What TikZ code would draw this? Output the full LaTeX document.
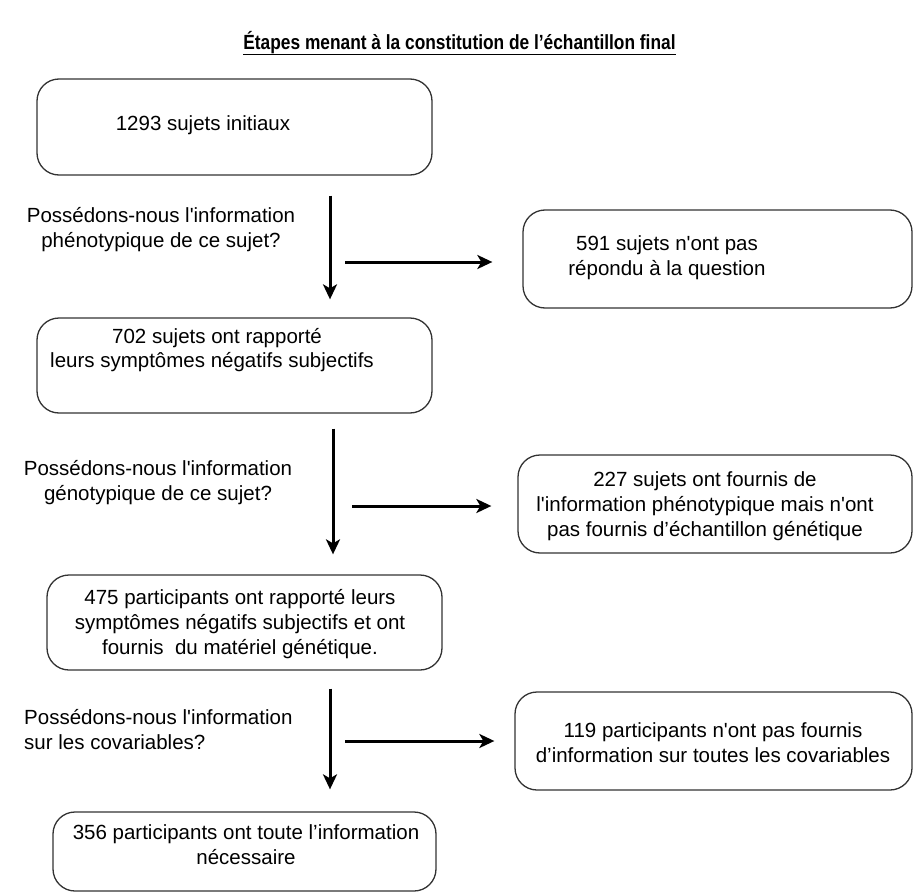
\documentclass[tikz,border=0pt]{standalone}
\usepackage{fontspec}
\setmainfont{Liberation Sans}
\usetikzlibrary{arrows.meta}
\begin{document}
\begin{tikzpicture}[x=1pt,y=-1pt,
  box/.style={draw=black!80, line width=1.3pt, rounded corners=22pt, inner sep=0pt},
  txt/.style={font=\fontsize{20.5}{25}\selectfont, align=center, inner sep=0pt},
  arr/.style={line width=3pt, -{Stealth[length=15pt,width=14pt,inset=4pt]}},
]
\useasboundingbox (0,0) rectangle (914,894);

% title
\node[inner sep=0pt, font=\bfseries\fontsize{20.5}{24}\selectfont] (title) at (459.5,43)
  {\scalebox{0.845}[1]{Étapes menant à la constitution de l’échantillon final}};
\draw[line width=1.8pt] ([yshift=-4.5pt]title.base west) -- ([yshift=-4.5pt]title.base east);

% boxes
\node[box, minimum width=395pt, minimum height=96pt] (B1) at (234.5,127) {};
\node[box, minimum width=389pt, minimum height=98pt] (B591) at (717.5,259) {};
\node[box, minimum width=395pt, minimum height=95pt] (B702) at (234.5,365.5) {};
\node[box, minimum width=394pt, minimum height=98pt] (B227) at (715,504) {};
\node[box, minimum width=395pt, minimum height=95pt] (B475) at (244.5,622.5) {};
\node[box, minimum width=397pt, minimum height=98pt] (B119) at (713.5,741) {};
\node[box, minimum width=383pt, minimum height=79pt] (B356) at (244.5,851.5) {};

% box texts
\node[txt] (t1) at (203,125) {1293 sujets initiaux};
\node[txt] (t591) at (667,257.5) {591 sujets n\textquotesingle ont pas\\répondu à la question};
\node[txt, anchor=west] (t702a) at (112,338) {702 sujets ont rapporté};
\node[txt, anchor=west] (t702b) at (50,362) {leurs symptômes négatifs subjectifs};
\node[txt] (t227) at (705,506) {227 sujets ont fournis de\\l\textquotesingle information phénotypique mais n\textquotesingle ont\\pas fournis d’échantillon génétique};
\node[txt] (t475) at (240,624) {475 participants ont rapporté leurs\\symptômes négatifs subjectifs et ont\\fournis\ \ du matériel génétique.};
\node[txt] (t119) at (713,742.5) {119 participants n\textquotesingle ont pas fournis\\d’information sur toutes les covariables};
\node[txt] (t356) at (246,844.5) {356 participants ont toute l’information\\nécessaire};

% questions
\node[txt] (q1) at (161,229.5) {Possédons-nous l\textquotesingle information\\phénotypique de ce sujet?};
\node[txt] (q2) at (158,483) {Possédons-nous l\textquotesingle information\\génotypique de ce sujet?};
\node[txt, align=left, anchor=west] (q3) at (24,730) {Possédons-nous l\textquotesingle information\\sur les covariables?};

% connectors
\coordinate (v1) at (330,0);
\coordinate (v2) at (333,0);
\coordinate (v3) at (330,0);
\coordinate (h1) at (345,262);
\coordinate (h2) at (352,506);
\coordinate (h3) at (345,741);

\draw[arr, shorten <=20pt, shorten >=18pt] (B1.south -| v1) -- (B702.north -| v1);
\draw[arr, shorten >=30pt] (h1) -- (h1 -| B591.west);
\draw[arr, shorten <=15pt, shorten >=20pt] (B702.south -| v2) -- (B475.north -| v2);
\draw[arr, shorten >=26pt] (h2) -- (h2 -| B227.west);
\draw[arr, shorten <=18pt, shorten >=22pt] (B475.south -| v3) -- (B356.north -| v3);
\draw[arr, shorten >=20pt] (h3) -- (h3 -| B119.west);
\end{tikzpicture}
\end{document}
